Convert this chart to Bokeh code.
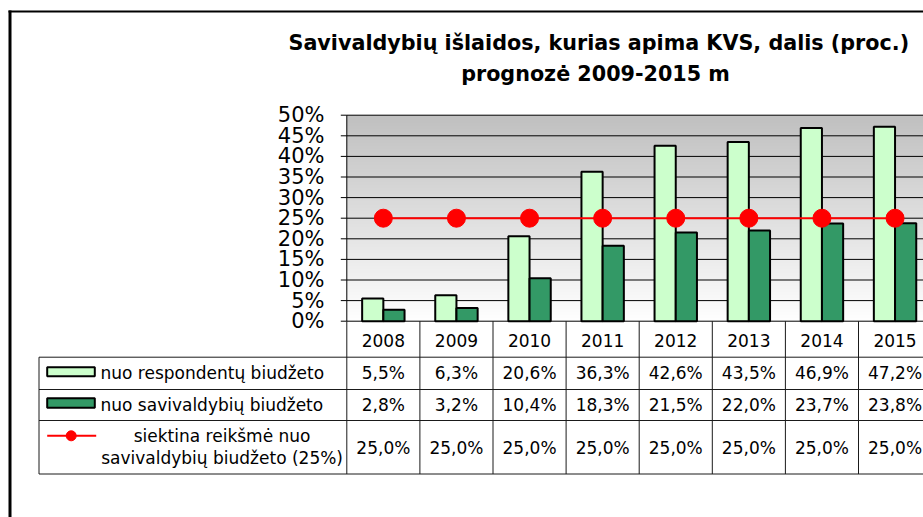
import numpy as np
from bokeh.plotting import figure
from bokeh.models import ColumnDataSource, Range1d
from bokeh.transform import dodge
from bokeh.embed import file_html
from bokeh.resources import INLINE
from bokeh.core.properties import value

# ---------------- data ----------------
years = ["2008", "2009", "2010", "2011", "2012", "2013", "2014", "2015"]
nuo_respondentu = [5.5, 6.3, 20.6, 36.3, 42.6, 43.5, 46.9, 47.2]
nuo_savivaldybiu = [2.8, 3.2, 10.4, 18.3, 21.5, 22.0, 23.7, 23.8]
siektina = [25.0, 25.0, 25.0, 25.0, 25.0, 25.0, 25.0, 25.0]
y_ticks = [0, 5, 10, 15, 20, 25, 30, 35, 40, 45, 50]
y_tick_labels = ["0%", "5%", "10%", "15%", "20%", "25%", "30%", "35%", "40%", "45%", "50%"]
series_names = ["nuo respondentų biudžeto", "nuo savivaldybių biudžeto",
                "siektina reikšmė nuo", "savivaldybių biudžeto (25%)"]
title_lines = ["Savivaldybių išlaidos, kurias apima KVS, dalis (proc.)",
               "prognozė 2009-2015 m"]

# ---------------- layout constants (canvas px) ----------------
W, H = 923, 517
FL, FT, FB = 346.3, 114.7, 320.7      # plot area left / top / bottom
CAT_W = 73.1                          # width of one category
PX_PCT = (FB - FT) / 50.0             # px per percent
FONT = value("DejaVu Sans")
LIGHT, DARK, RED = "#CCFFCC", "#339966", "#FF0000"
ROWS = [356.7, 389.0, 420.0, 473.5]   # table horizontal lines
TABLE_LEFT = 38.5


def X(px):
    return (px - FL) / CAT_W - 0.5


def Y(py):
    return (FB - py) / PX_PCT


def fmt(v):
    return ("%.1f%%" % v).replace(".", ",")


idx = list(range(len(years)))
n = len(idx)
x_left, x_right = -0.5, X(W)
y_top = y_ticks[-1]

src = ColumnDataSource(dict(x=idx, resp=nuo_respondentu, sav=nuo_savivaldybiu, target=siektina))

p = figure(width=W, height=H, output_backend="svg", toolbar_location=None, title=None,
           x_range=Range1d(X(0), X(W)), y_range=Range1d(Y(H), Y(0)),
           x_axis_location=None, y_axis_location=None, min_border=0)
p.outline_line_color = None
p.background_fill_color = "white"
p.border_fill_color = "white"
p.xgrid.visible = False
p.ygrid.visible = False

# gradient background of the plot area
grad = np.linspace(255, 192, 200).astype(np.uint32)
rgba = (np.uint32(255) << 24) | (grad << 16) | (grad << 8) | grad
img = np.repeat(rgba.reshape(-1, 1), 2, axis=1).astype(np.uint32)
p.image_rgba(image=[img], x=x_left, y=0, dw=x_right - x_left, dh=y_top, level="image")

# horizontal grid lines
p.segment(x0=[x_left] * len(y_ticks), x1=[x_right] * len(y_ticks), y0=y_ticks, y1=y_ticks,
          line_color="black", line_width=1)
# y axis line, ticks and tick labels
p.segment(x0=[x_left], x1=[x_left], y0=[0], y1=[y_top], line_color="black", line_width=1)
p.segment(x0=[X(FL - 6)] * len(y_ticks), x1=[x_left] * len(y_ticks), y0=y_ticks, y1=y_ticks,
          line_color="black", line_width=1)
p.text(x=[X(324)] * len(y_ticks), y=y_ticks, text=y_tick_labels, text_align="right",
       text_baseline="middle", text_font=FONT, text_font_size=value("21px"), text_color="black")

# bars, target line
p.vbar(x=dodge("x", -0.145), top="resp", width=0.29, bottom=0, source=src,
       fill_color=LIGHT, line_color="black", line_width=2)
p.vbar(x=dodge("x", 0.145), top="sav", width=0.29, bottom=0, source=src,
       fill_color=DARK, line_color="black", line_width=2)
p.line(x="x", y="target", source=src, line_color=RED, line_width=2)
p.scatter(x="x", y="target", source=src, size=18, fill_color=RED, line_color=RED)

# ---------------- data table ----------------
hx0 = [X(TABLE_LEFT)] * len(ROWS) + [X(TABLE_LEFT)] + [i - 0.5 for i in idx]
hx1 = [x_right] * len(ROWS) + [X(TABLE_LEFT)] + [i - 0.5 for i in idx]
hy0 = [Y(r) for r in ROWS] + [Y(ROWS[0])] + [0] * n
hy1 = [Y(r) for r in ROWS] + [Y(ROWS[-1])] + [Y(ROWS[-1])] * n
p.segment(x0=hx0, x1=hx1, y0=hy0, y1=hy1, line_color="#1a1a1a", line_width=1)

# header (years) and values
p.text(x=idx, y=[Y(339.5)] * n, text=years, text_align="center", text_baseline="middle",
       text_font=FONT, text_font_size=value("17px"), text_color="black")
vals = dict(x=idx * 3,
            y=[Y(372.5)] * n + [Y(404.5)] * n + [Y(447)] * n,
            t=[fmt(v) for v in nuo_respondentu] + [fmt(v) for v in nuo_savivaldybiu]
              + [fmt(v) for v in siektina])
p.text(x="x", y="y", text="t", source=ColumnDataSource(vals), text_align="center",
       text_baseline="middle", text_font=FONT, text_font_size=value("17px"), text_color="black")

# legend keys in the table
p.quad(left=[X(46.7)] * 2, right=[X(94.3)] * 2, top=[Y(366.7), Y(397.7)],
       bottom=[Y(375.7), Y(407.3)], fill_color=[LIGHT, DARK], line_color="black", line_width=2)
p.line(x=[X(46.7), X(95.7)], y=[Y(435.3)] * 2, line_color=RED, line_width=2)
p.scatter(x=[X(70.7)], y=[Y(435.3)], size=10, fill_color=RED, line_color=RED)

p.text(x=[X(100)] * 2, y=[Y(372), Y(404.5)], text=series_names[:2], text_align="left",
       text_baseline="middle", text_font=FONT, text_font_size=value("17px"), text_color="black")
p.text(x=[X(221.6)] * 2, y=[Y(435), Y(457.5)], text=series_names[2:], text_align="center",
       text_baseline="middle", text_font=FONT, text_font_size=value("17px"), text_color="black")

# title
p.text(x=[X(598.3), X(595)], y=[Y(42.7), Y(73.3)], text=title_lines, text_align="center",
       text_baseline="alphabetic", text_font=FONT, text_font_size=value("20.7px"),
       text_font_style="bold", text_color="black")

# outer frame of the chart object
p.segment(x0=[X(9.5)], x1=[X(9.5)], y0=[Y(10)], y1=[Y(H + 5)], line_color="black", line_width=3)
p.segment(x0=[X(8)], x1=[X(W + 5)], y0=[Y(11)], y1=[Y(11)], line_color="black", line_width=2)

open("out.html", "w").write(file_html(p, INLINE))
